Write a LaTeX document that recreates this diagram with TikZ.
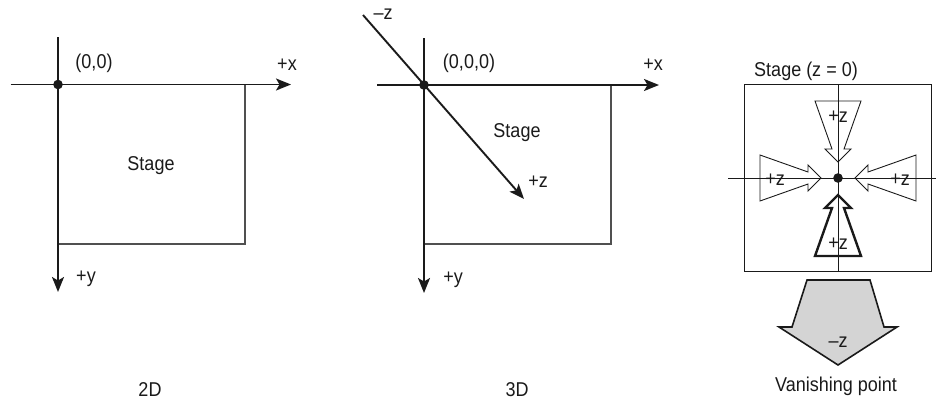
\documentclass[tikz,border=0pt]{standalone}
\usepackage{fontspec}
\setmainfont{Liberation Sans}[FakeStretch=0.9]
\usetikzlibrary{arrows.meta}
\definecolor{stagegray}{HTML}{D4D4D4}
\definecolor{edgegray}{HTML}{505050}
\definecolor{inkblack}{HTML}{1A1A1A}

\tikzset{
  axis/.style={draw=inkblack, line width=1.9pt, -{Stealth[length=15pt, width=12pt, inset=3.5pt]}},
  stagebox/.style={draw=edgegray, line width=1.2pt},
  thinline/.style={draw=inkblack, line width=0.9pt},
  lbl/.style={inner sep=0pt, text=inkblack, font=\fontsize{20}{23}\selectfont},
  origindot/.style={fill=inkblack, draw=none},
  zarrow/.pic={\draw[pic actions] (-23,0) -- (23,0) -- (6,48) -- (13,48) -- (0,61) -- (-13,48) -- (-6,48) -- cycle;}
}

\begin{document}
\begin{tikzpicture}[x=1pt, y=-1pt]
    \useasboundingbox (0,0) rectangle (936,402);

    % 2D panel
    \coordinate (o2) at (58,84.5);
    \coordinate (x2a) at (10.7,84.5);
    \coordinate (x2b) at (291,84.5);
    \coordinate (y2a) at (58,37);
    \coordinate (y2b) at (58,292);
    \draw[stagebox] (o2) rectangle (245,244);
    \draw[axis] (x2a) -- (x2b);
    \draw[axis] (y2a) -- (y2b);
    \fill[origindot] (o2) circle (4.8);
    \node[lbl] (lbl2o) at (94,63) {(0,0)};
    \node[lbl] (lbl2x) at (287,65) {+x};
    \node[lbl] (lbl2y) at (86,279) {+y};
    \node[lbl] (stage2) at (151,166) {Stage};
    \node[lbl] (cap2) at (150,390) {2D};

    % 3D panel
    \coordinate (o3) at (424,85);
    \coordinate (x3a) at (377,85);
    \coordinate (x3b) at (659,85);
    \coordinate (y3a) at (424,38);
    \coordinate (y3b) at (424,293);
    \coordinate (z3a) at (363,15);
    \coordinate (z3b) at (524,199);
    \draw[stagebox] (o3) rectangle (611,244);
    \draw[axis] (x3a) -- (x3b);
    \draw[axis] (y3a) -- (y3b);
    \draw[axis] (z3a) -- (z3b);
    \fill[origindot] (o3) circle (4.8);
    \node[lbl] (lbl3o) at (469,63) {(0,0,0)};
    \node[lbl] (lbl3x) at (653,65) {+x};
    \node[lbl] (lbl3mz) at (383,14) {–z};
    \node[lbl] (stage3) at (517,133) {Stage};
    \node[lbl] (lbl3z) at (538,182) {+z};
    \node[lbl] (lbl3y) at (453,280) {+y};
    \node[lbl] (cap3) at (517,390) {3D};

    % Vanishing point panel
    \coordinate (vp) at (838,178);
    \coordinate (vt) at (838,84);
    \coordinate (vb) at (838,271);
    \coordinate (hl) at (728,178);
    \coordinate (hr) at (936,178);
    \node[lbl] (stagez) at (806,71) {Stage (z = 0)};
    \draw[thinline] (744,84) rectangle (931,271);
    \draw[thinline] (vt) -- (vb);
    \draw[thinline] (hl) -- (hr);
    \pic[draw=inkblack, line width=0.9pt] at (838,101) {zarrow};
    \pic[draw=inkblack, line width=0.9pt, rotate=90] at (760,178) {zarrow};
    \pic[draw=inkblack, line width=0.9pt, rotate=-90] at (916,178) {zarrow};
    \pic[draw=inkblack, line width=2.4pt, rotate=180] at (838,256) {zarrow};
    \fill[origindot] (vp) circle (4.8);
    \node[lbl] (zt) at (838,117) {+z};
    \node[lbl] (zl) at (775,180) {+z};
    \node[lbl] (zr) at (900,180) {+z};
    \node[lbl] (zb) at (838,244) {+z};

    % Big gray arrow
    \draw[fill=stagegray, draw=inkblack, line width=1.6pt, line join=miter]
        (807,280) -- (870,280) -- (884,327) -- (897,327) -- (838,365)
        -- (779,327) -- (792,327) -- cycle;
    \node[lbl] (mz) at (838,342) {–z};
    \node[lbl] (cap4) at (836,386) {Vanishing point};
\end{tikzpicture}
\end{document}
